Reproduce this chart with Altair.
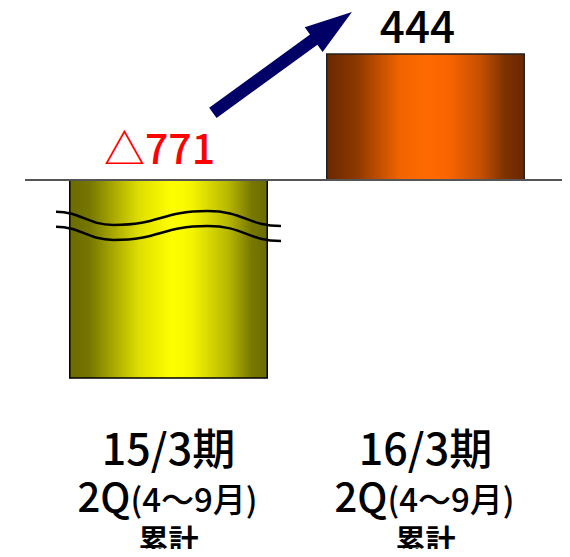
import altair as alt
import pandas as pd

# ---- data ----
periods = ["15/3期", "16/3期"]
values = [-771, 444]
value_labels = ["△771", "444"]
quarter = ["2Q", "2Q"]
months = ["(4～9月)", "(4～9月)"]
cumulative = ["累計", "累計"]

Y_BREAK = -698      # bars are cut (axis break) below this value
WAVE_AT = -162      # where the break symbol sits

df = pd.DataFrame({
    "period": periods,
    "value": values,
    "vlabel": value_labels,
    "quarter": quarter,
    "months": months,
    "cum": cumulative,
})

FONT = "Noto Sans CJK JP"

xscale = alt.Scale(type="band", domain=periods, paddingInner=0.2315,
                   paddingOuter=0.1936, align=0.6206)
yscale = alt.Scale(domain=[-1300.3, 606.1], nice=False, zero=False)

X = alt.X("period:N", scale=xscale, axis=None)
Y = alt.Y("shown:Q", scale=yscale, axis=None)
YLAB = alt.Y("labely:Q", scale=yscale, axis=None)
YZERO = alt.Y("zero:Q", scale=yscale, axis=None)
YWAVE = alt.Y("wavey:Q", scale=yscale, axis=None)


def grad(stops):
    return alt.LinearGradient(
        gradient="linear", x1=0, x2=1, y1=0, y2=0,
        stops=[alt.GradientStop(color=c, offset=o) for o, c in stops])


yellow = grad([(0, "#6b6b00"), (0.1, "#767600"), (0.35, "#dede00"), (0.52, "#ffff00"),
               (0.62, "#f4f400"), (0.8, "#b8b800"), (0.92, "#787800"), (1, "#6b6b00")])
orange = grad([(0, "#6a2800"), (0.15, "#8c3800"), (0.37, "#f06400"), (0.5, "#ff6a00"),
               (0.62, "#f86400"), (0.78, "#c45000"), (0.9, "#7e3200"), (1, "#6a2800")])

base = alt.Chart(df).transform_calculate(
    shown=f"max(datum.value, {Y_BREAK})",
    labely="max(datum.value, 0)",
    zero="0",
    wavey=f"{WAVE_AT}",
)
first = base.transform_filter(alt.datum.period == periods[0])
second = base.transform_filter(alt.datum.period == periods[1])

bar1 = first.mark_bar(color=yellow, stroke="#000", strokeWidth=1.5).encode(
    x=X, y=Y, y2=alt.datum(0))
bar2 = second.mark_bar(color=orange, stroke="#222", strokeWidth=1.5).encode(
    x=X, y=Y, y2=alt.datum(0))

baseline = base.mark_rule(color="#555", strokeWidth=2).encode(
    y=YZERO, x=alt.value(17), x2=alt.value(562))

WAVE = ("M-1,-0.127 C-0.78,-0.127 -0.72,-0.009 -0.489,-0.009 "
        "C-0.07,-0.009 -0.07,-0.133 0.347,-0.133 C0.67,-0.133 0.7,0 1,0 "
        "M-1,0.006 C-0.78,0.006 -0.72,0.124 -0.489,0.124 "
        "C-0.07,0.124 -0.07,0 0.347,0 C0.67,0 0.7,0.133 1,0.133")
wave = first.mark_point(
    shape=WAVE, size=225 ** 2, filled=False, stroke="#000", strokeWidth=2.5, opacity=1
).encode(x=X, y=YWAVE)

lab1 = first.mark_text(
    font=FONT, fontSize=41, fontWeight=500, color="#ff0000", dx=-9, dy=-16,
    baseline="alphabetic"
).encode(x=X, y=YLAB, text="vlabel:N")
lab2 = second.mark_text(
    font=FONT, fontSize=44, fontWeight=500, color="#000", dx=-8, dy=-11,
    baseline="alphabetic"
).encode(x=X, y=YLAB, text="vlabel:N")

line1 = base.mark_text(font=FONT, fontSize=43, fontWeight=500, color="#000",
                       baseline="alphabetic").encode(
    x=X, y=alt.value(457), text="period:N")
line2a = base.mark_text(font=FONT, fontSize=40, fontWeight=500, color="#000",
                        baseline="alphabetic", align="right", dx=-38).encode(
    x=X, y=alt.value(504), text="quarter:N")
line2b = base.mark_text(font=FONT, fontSize=33, fontWeight=500, color="#000",
                        baseline="alphabetic", align="left", dx=-38).encode(
    x=X, y=alt.value(504), text="months:N")
line3 = base.mark_text(font=FONT, fontSize=30, fontWeight=700, color="#000",
                       baseline="alphabetic").encode(
    x=X, y=alt.value(543), text="cum:N")

ARROW = ("M0,-1 L0.177,-0.45 L0.073,-0.45 L0.073,1 L-0.073,1 "
         "L-0.073,-0.45 L-0.177,-0.45 Z")
arrow = first.mark_point(shape=ARROW, size=171.9 ** 2, angle=54, filled=True,
                         fill="#000066", strokeWidth=0, opacity=1).encode(
    x=alt.value(274.4), y=alt.value(54.4))

chart = alt.layer(bar1, bar2, baseline, wave, lab1, lab2, line1, line2a, line2b, line3, arrow).properties(
    width=554, height=541, padding=0, autosize=alt.AutoSizeParams(type="none")
).configure_view(strokeWidth=0)

chart.save("out.html", embed_options={"renderer": "svg", "actions": False})
